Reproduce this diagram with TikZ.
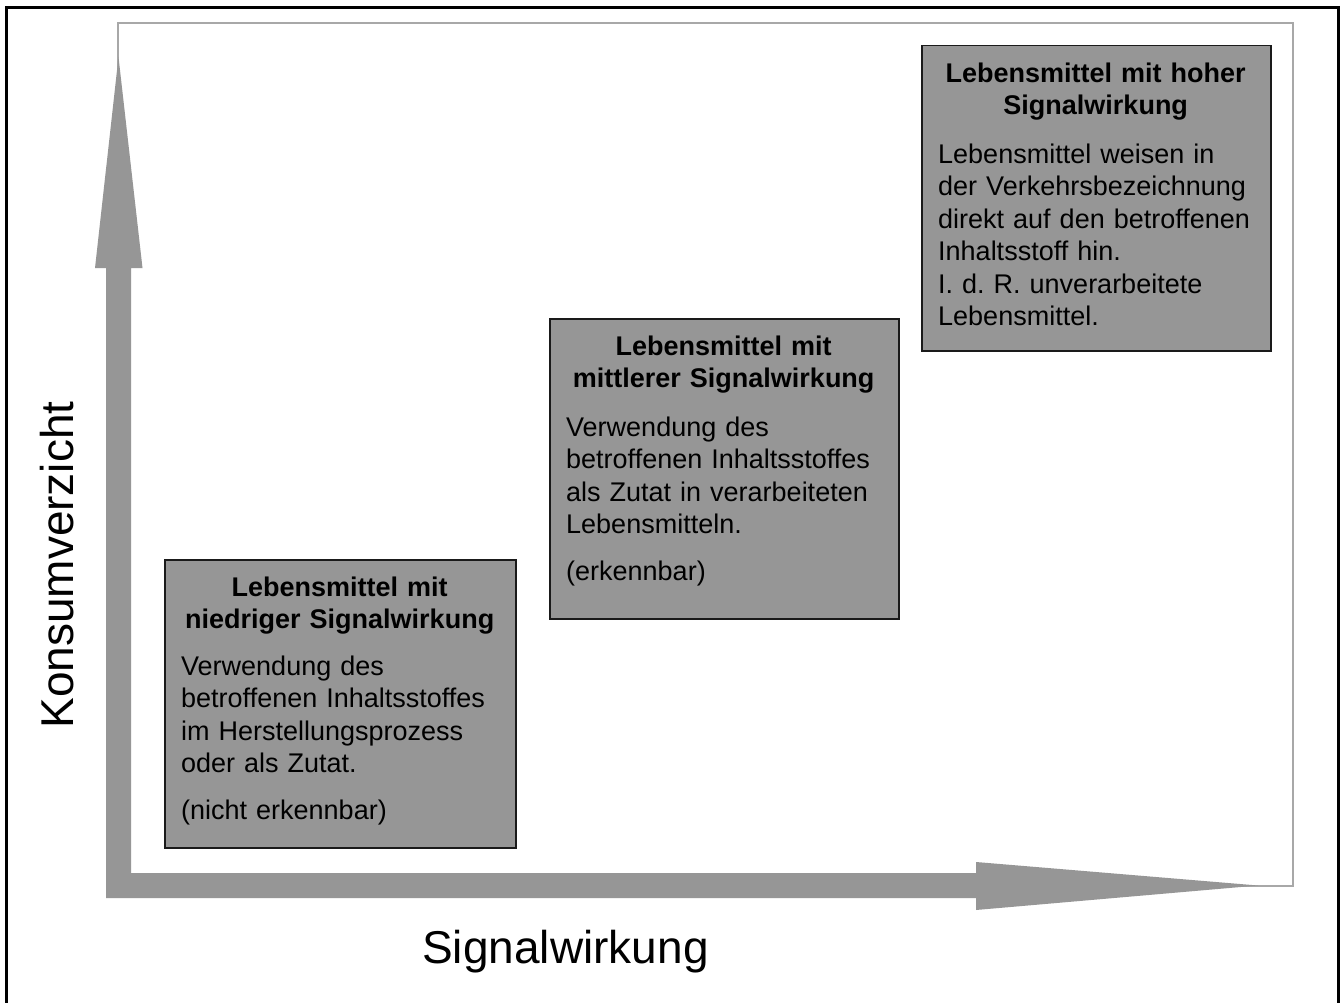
\documentclass[tikz,border=0pt]{standalone}
\usepackage{fontspec}
\setmainfont{Liberation Sans}
\frenchspacing
\definecolor{boxgray}{HTML}{969696}
\definecolor{axisgray}{HTML}{969696}
\definecolor{framegray}{HTML}{A8A8A8}
\definecolor{boxline}{HTML}{1A1A1A}
\tikzset{
  infobox/.style={draw=boxline, line width=1.5pt, fill=boxgray, anchor=north west, inner sep=0pt},
  infotext/.style={anchor=north west, inner sep=0pt, text width=#1,
    font=\fontsize{27}{32.5}\selectfont, execute at begin node={\setlength{\parindent}{0pt}\setlength{\parskip}{0pt}\frenchspacing}},
  axislabel/.style={font=\fontsize{46}{55}\selectfont, inner sep=0pt, anchor=base},
}
\begin{document}
\begin{tikzpicture}[x=1pt,y=-1pt]
\useasboundingbox (0,0) rectangle (1344,1003);
\fill[white] (0,0) rectangle (1344,1003);
% outer frame (open at the bottom)
\draw[black, line width=3pt] (6,1010) -- (6,7.5) -- (1338,7.5) -- (1338,1010);
% plot area
\draw[framegray, line width=1.5pt] (118,23) rectangle (1293,886);
% axes
\coordinate (corner) at (106,898);
\coordinate (ytip) at (118.5,57);
\coordinate (xtip) at (1258,885.5);
\fill[axisgray] (corner) -- (106,268) -- (95,268) -- (ytip) -- (142.5,268) -- (131,268)
  -- (131,873) -- (976,873) -- (976,862) -- (xtip) -- (976,910) -- (976,898) -- cycle;
% axis labels
\node[axislabel] (xlabel) at (565.5,963) {Signalwirkung};
\node[axislabel, rotate=90] (ylabel) at (73,565) {Konsumverzicht};
% boxes
\node[infobox, minimum width=351pt, minimum height=288pt] (low) at (164,559) {};
\node[infotext=317pt] (lowtext) at ([xshift=17pt, yshift=-17.5pt]low.north west) {%
{\centering\bfseries Lebensmittel mit\\niedriger Signalwirkung\par}
\vspace{14pt}
{\raggedright Verwendung des\\betroffenen Inhaltsstoffes\\im Herstellungsprozess\\oder als Zutat.\par}
\vspace{14pt}
{\raggedright (nicht erkennbar)\par}};

\node[infobox, minimum width=349pt, minimum height=300pt] (mid) at (549,318) {};
\node[infotext=315pt] (midtext) at ([xshift=17pt, yshift=-17.5pt]mid.north west) {%
{\centering\bfseries Lebensmittel mit\\mittlerer Signalwirkung\par}
\vspace{16pt}
{\raggedright Verwendung des\\betroffenen Inhaltsstoffes\\als Zutat in verarbeiteten\\Lebensmitteln.\par}
\vspace{14pt}
{\raggedright (erkennbar)\par}};

\node[infobox, minimum width=349pt, minimum height=305pt] (high) at (921,45) {};
\node[infotext=315pt] (hightext) at ([xshift=17pt, yshift=-17.5pt]high.north west) {%
{\centering\bfseries Lebensmittel mit hoher\\Signalwirkung\par}
\vspace{16pt}
{\raggedright Lebensmittel weisen in\\der Verkehrsbezeichnung\\direkt auf den betroffenen\\Inhaltsstoff hin.\\I. d. R. unverarbeitete\\Lebensmittel.\par}};
\end{tikzpicture}
\end{document}
